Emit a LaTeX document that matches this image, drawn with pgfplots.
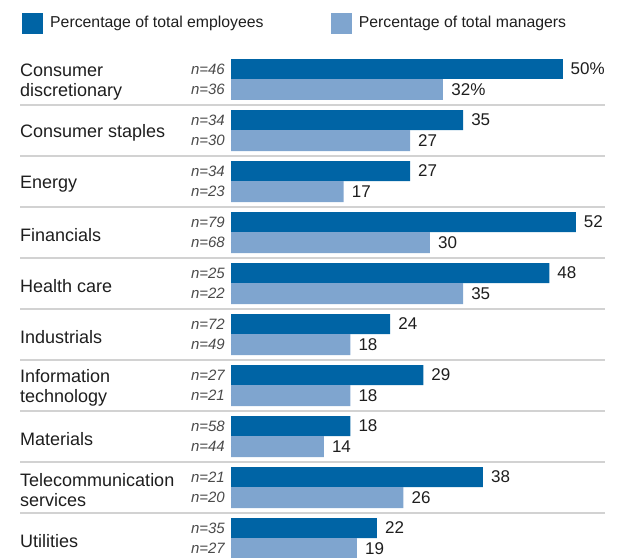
\documentclass[border=0pt]{standalone}
\usepackage{fontspec}
\setmainfont{Liberation Sans}
\usepackage{pgfplots}
\usepackage{pgfplotstable}
\pgfplotsset{compat=1.18}
\definecolor{darkb}{HTML}{0064A5}
\definecolor{lightb}{HTML}{7FA5CF}
\definecolor{sepc}{HTML}{D2D2D2}
\definecolor{txt}{HTML}{1E1E1E}
\definecolor{ntxt}{HTML}{4A4A4A}

\pgfplotstableread{
idx emp mgr nemp nmgr
0 50 32 46 36
1 35 27 34 30
2 27 17 34 23
3 52 30 79 68
4 48 35 25 22
5 24 18 72 49
6 29 18 27 21
7 18 14 58 44
8 38 26 21 20
9 22 19 35 27
}\datatable

\begin{document}
\begin{tikzpicture}
\begin{axis}[
  at={(0pt,0pt)}, anchor=south west,
  scale only axis, width=585pt, height=557pt,
  xmin=-31.825, xmax=56.41,
  ymin=-1.0588, ymax=9.8627, y dir=reverse,
  clip=false,
  axis line style={draw=none},
  tick style={draw=none},
  major tick length=0pt,
  xtick=\empty,
  ytick={0.5,1.5,2.5,3.5,4.5,5.5,6.5,7.5,8.5,9.5},
  yticklabels={{Consumer\\discretionary},{Consumer staples},Energy,Financials,{Health care},Industrials,{Information\\technology},Materials,{Telecommunication\\services},Utilities},
  yticklabel style={anchor=west, align=left, inner sep=0pt, yshift=-2.5pt, font=\fontsize{18}{20}\selectfont, text=txt},
  extra y ticks={1,2,3,4,5,6,7,8,9},
  extra y tick labels={},
  extra y tick style={grid=major, major grid style={draw=sepc, line width=1.5pt}},
  legend columns=2,
  legend style={draw=none, fill=none, at={(axis description cs:0.00342,0.9587)}, anchor=west,
    inner sep=0pt, outer sep=0pt,
    nodes={inner sep=0pt, font=\fontsize{15.8}{18}\selectfont, text=txt},
    cells={anchor=west},
    /tikz/every even column/.append style={column sep=67pt}},
  every node near coord/.append style={anchor=west, inner sep=0pt, xshift=8pt, font=\fontsize{17}{20}\selectfont, text=txt},
]
\addlegendimage{legend image code/.code={\fill[darkb] (0pt,-10pt) rectangle (20pt,10pt); \path[draw=none, fill=none] (20pt,-1pt) rectangle (28pt,1pt);}}
\addlegendentry{Percentage of total employees}
\addlegendimage{legend image code/.code={\fill[lightb] (0pt,-10pt) rectangle (20pt,10pt); \path[draw=none, fill=none] (20pt,-1pt) rectangle (28pt,1pt);}}
\addlegendentry{Percentage of total managers}

% employees
\addplot[forget plot, xbar, bar width=20pt, bar shift=0pt, fill=darkb, draw=none,
  nodes near coords={\pgfplotspointmeta}, point meta=explicit symbolic,
  skip coords between index={0}{1}]
  table[x=emp, y expr=\thisrow{idx}+0.2941, meta=emp] {\datatable};
\addplot[forget plot, xbar, bar width=20pt, bar shift=0pt, fill=darkb, draw=none,
  nodes near coords={\pgfplotspointmeta\%}, point meta=explicit symbolic,
  skip coords between index={1}{10}]
  table[x=emp, y expr=\thisrow{idx}+0.2941, meta=emp] {\datatable};
% managers
\addplot[forget plot, xbar, bar width=21pt, bar shift=0pt, fill=lightb, draw=none,
  nodes near coords={\pgfplotspointmeta}, point meta=explicit symbolic,
  skip coords between index={0}{1}]
  table[x=mgr, y expr=\thisrow{idx}+0.6961, meta=mgr] {\datatable};
\addplot[forget plot, xbar, bar width=21pt, bar shift=0pt, fill=lightb, draw=none,
  nodes near coords={\pgfplotspointmeta\%}, point meta=explicit symbolic,
  skip coords between index={1}{10}]
  table[x=mgr, y expr=\thisrow{idx}+0.6961, meta=mgr] {\datatable};
% n labels
\addplot[forget plot, only marks, mark=*, mark size=0pt, draw=none, fill=none,
  nodes near coords={\itshape n=\pgfplotspointmeta}, point meta=explicit symbolic,
  every node near coord/.style={anchor=east, inner sep=0pt, xshift=-6pt, font=\fontsize{15}{18}\selectfont, text=ntxt}]
  table[x expr=0, y expr=\thisrow{idx}+0.2941, meta=nemp] {\datatable};
\addplot[forget plot, only marks, mark=*, mark size=0pt, draw=none, fill=none,
  nodes near coords={\itshape n=\pgfplotspointmeta}, point meta=explicit symbolic,
  every node near coord/.style={anchor=east, inner sep=0pt, xshift=-6pt, font=\fontsize{15}{18}\selectfont, text=ntxt}]
  table[x expr=0, y expr=\thisrow{idx}+0.6961, meta=nmgr] {\datatable};
\end{axis}
\pgfresetboundingbox
\path[use as bounding box] ([xshift=-20pt]current axis.south west) rectangle ([xshift=13pt]current axis.north east);
\end{tikzpicture}
\end{document}
